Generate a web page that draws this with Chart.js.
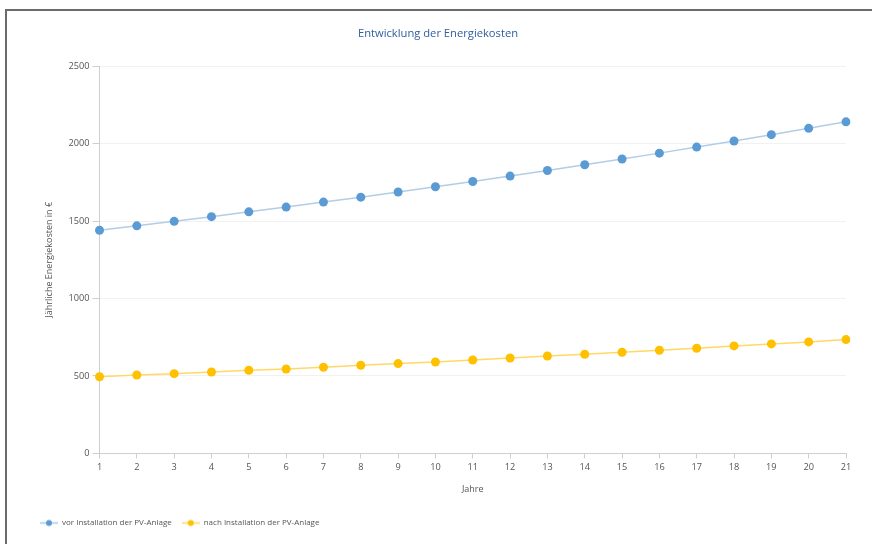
<!DOCTYPE html>
<html>
<head>
<meta charset="utf-8">
<title>Entwicklung der Energiekosten</title>
<script src="https://cdn.jsdelivr.net/npm/chart.js@4/dist/chart.umd.min.js"></script>
<style>
    html, body { margin: 0; padding: 0; background: #fff; overflow: hidden; }
    #frame {
        position: absolute; left: 5px; top: 9px; width: 867px; height: 535px;
        border-top: 2px solid #6b6b6b; border-left: 2px solid #6b6b6b;
    }
    #wrap { position: absolute; left: 0; top: 0; width: 872px; height: 544px; }
</style>
</head>
<body>
<div id="frame"></div>
<div id="wrap"><canvas id="chart"></canvas></div>
<script>
// Jahre 1..21
const years = ['1', '2', '3', '4', '5', '6', '7', '8', '9', '10', '11',
    '12', '13', '14', '15', '16', '17', '18', '19', '20', '21'];

// Jährliche Energiekosten in €
const vorPV = [1440, 1469, 1498, 1528, 1559, 1590, 1622, 1654, 1687, 1721, 1755,
    1790, 1826, 1863, 1900, 1938, 1977, 2016, 2057, 2098, 2140];
const nachPV = [495, 506, 515, 526, 537, 545, 556, 569, 580, 590, 603,
    616, 629, 640, 653, 666, 679, 694, 707, 720, 735];

const seriesNames = ['vor Installation der PV-Anlage', 'nach Installation der PV-Anlage'];
const yMin = 0;
const yMax = 2500;
const yStep = 500;

const FONT = '"Open Sans", "Noto Sans", sans-serif';

// small line + dot symbol for the legend
function makeMarker(lineColor, dotColor) {
    const c = document.createElement('canvas');
    c.width = 18;
    c.height = 9;
    const ctx = c.getContext('2d');
    ctx.strokeStyle = lineColor;
    ctx.lineWidth = 1.5;
    ctx.beginPath();
    ctx.moveTo(0, 4.5);
    ctx.lineTo(18, 4.5);
    ctx.stroke();
    ctx.fillStyle = dotColor;
    ctx.beginPath();
    ctx.arc(9, 4.5, 3, 0, Math.PI * 2);
    ctx.fill();
    return c;
}

const markers = [
    makeMarker('#a9c6e4', '#5b9bd5'),
    makeMarker('#ffd966', '#ffc000')
];

new Chart(document.getElementById('chart'), {
    type: 'line',
    data: {
        labels: years,
        datasets: [
            {
                label: seriesNames[0],
                data: vorPV,
                borderColor: '#b3cde6',
                borderWidth: 1.5,
                pointBackgroundColor: '#5b9bd5',
                pointBorderWidth: 0,
                pointRadius: 4.5,
                tension: 0
            },
            {
                label: seriesNames[1],
                data: nachPV,
                borderColor: '#ffd966',
                borderWidth: 1.5,
                pointBackgroundColor: '#ffc000',
                pointBorderWidth: 0,
                pointRadius: 4.5,
                tension: 0
            }
        ]
    },
    options: {
        responsive: true,
        maintainAspectRatio: false,
        animation: false,
        layout: {
            padding: { left: 30, right: 26, top: 0, bottom: 7 }
        },
        plugins: {
            title: {
                display: true,
                text: 'Entwicklung der Energiekosten',
                color: '#2f5f9e',
                font: { family: FONT, size: 11.2, weight: 'normal' },
                padding: { top: 27.3, bottom: 25.3 }
            },
            legend: {
                position: 'bottom',
                align: 'start',
                labels: {
                    usePointStyle: true,
                    pointStyleWidth: 18,
                    padding: 10,
                    color: '#555',
                    font: { family: FONT, size: 8 },
                    generateLabels: function (chart) {
                        return chart.data.datasets.map((ds, i) => ({
                            text: ds.label,
                            pointStyle: markers[i],
                            fillStyle: ds.pointBackgroundColor,
                            strokeStyle: ds.borderColor,
                            lineWidth: 0,
                            fontColor: '#555',
                            hidden: false,
                            datasetIndex: i
                        }));
                    }
                }
            },
            tooltip: { enabled: false }
        },
        scales: {
            x: {
                grid: {
                    drawOnChartArea: false,
                    tickLength: 5,
                    tickColor: '#cfcfcf'
                },
                border: { color: '#cfcfcf', width: 1 },
                ticks: {
                    color: '#555',
                    padding: 3.5,
                    maxRotation: 0,
                    font: { family: FONT, size: 9.2 }
                },
                title: {
                    display: true,
                    text: 'Jahre',
                    color: '#555',
                    font: { family: FONT, size: 9 },
                    padding: { top: 7.1, bottom: 14.6 }
                }
            },
            y: {
                min: yMin,
                max: yMax,
                grid: {
                    color: '#f1f1f1',
                    tickLength: 7,
                    tickColor: '#cfcfcf'
                },
                border: { color: '#cfcfcf', width: 1 },
                ticks: {
                    stepSize: yStep,
                    color: '#555',
                    padding: 3,
                    font: { family: FONT, size: 9.2 },
                    callback: function (value) {
                        return String(value);
                    }
                },
                title: {
                    display: true,
                    text: 'Jährliche Energiekosten in €',
                    color: '#555',
                    font: { family: FONT, size: 9 },
                    padding: { top: 13.6, bottom: 11.1 }
                }
            }
        }
    }
});
</script>
</body>
</html>
